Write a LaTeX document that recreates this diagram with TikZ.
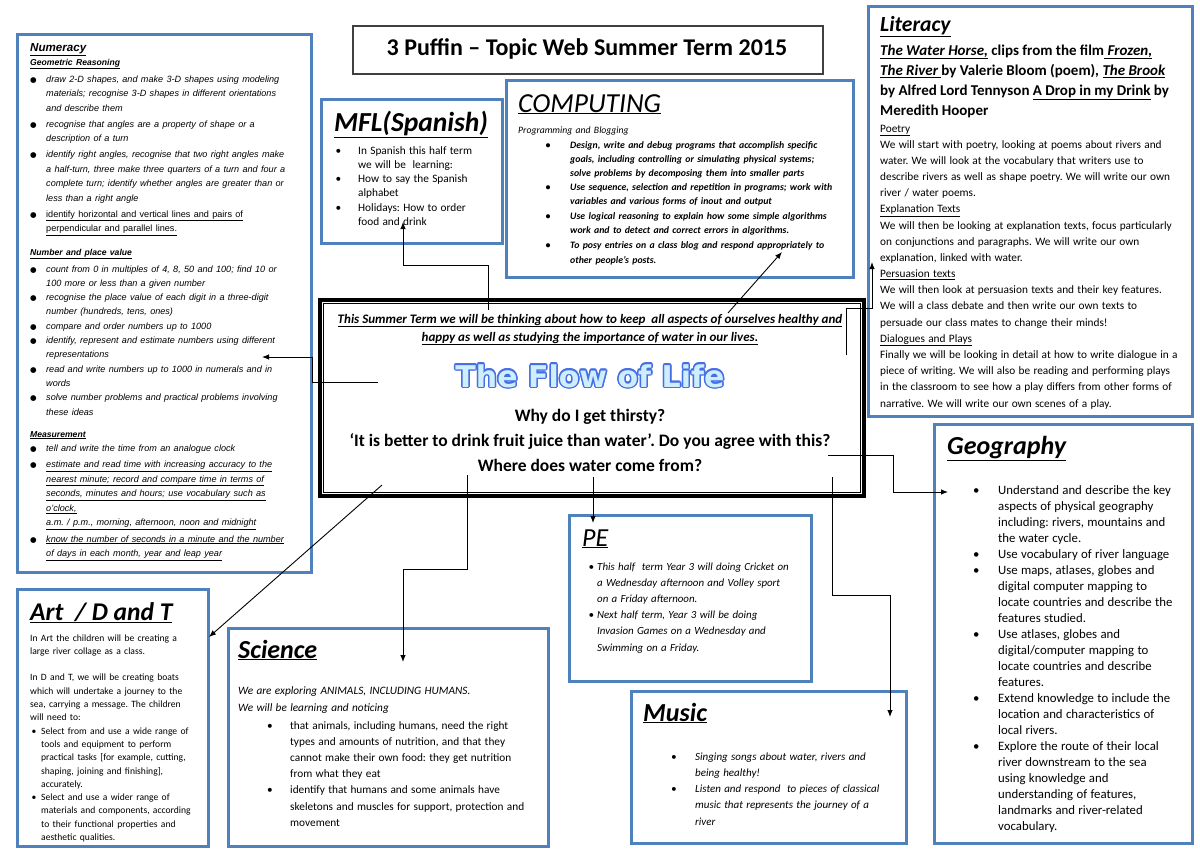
\documentclass[tikz,border=0pt]{standalone}
\usepackage{fontspec}
\usetikzlibrary{arrows.meta}
\setmainfont{Carlito}
\newfontfamily\arialf{Liberation Sans}
\newfontfamily\heavyf{DejaVu Sans}
\definecolor{boxblue}{RGB}{79,129,189}
\definecolor{flowfill}{RGB}{205,238,250}
\definecolor{flowline}{RGB}{70,110,230}
\frenchspacing

\newlength\bulx
\newlength\txtx
\newlength\itemgap
\newcommand\bulsym{\textbullet}
\newcommand\nl{\hfil\break}
\newcommand\uline[1]{\underline{#1}}
\newcommand\bitem[1]{\noindent\hangindent=\txtx\hangafter=1%
  \rlap{\hspace*{\bulx}\bulsym}\hspace*{\txtx}#1\par\vspace{\itemgap}}
\newcommand\fsz[2]{\fontsize{#1}{#2}\selectfont}
\newcommand\flowtext{\heavyf\bfseries\fsz{30}{32}The Flow of Life}

\tikzset{
  bluebox/.style={draw=boxblue, line width=3pt, fill=white, inner sep=0pt, anchor=north west},
  body/.style={anchor=base west, inner sep=0pt, text width=400pt, align=left},
  line/.style={anchor=base, inner sep=0pt},
  head/.style={anchor=base west, inner sep=0pt, font=\fsz{26}{28}\bfseries\itshape},
  link/.style={draw, line width=0.9pt, ->, >={Latex[length=7pt,width=5.5pt]}},
}

\begin{document}
\begin{tikzpicture}[x=1pt,y=-1pt]
\useasboundingbox (0,0) rectangle (1200,852);
\fill[white] (0,0) rectangle (1200,852);

% boxes
\node[draw=black!75, line width=1.5pt, fill=white, inner sep=0pt, anchor=north west,
  minimum width=470pt, minimum height=48pt] (title) at (352,25) {};
\node[bluebox, minimum width=294pt, minimum height=538pt] (numeracy) at (16,33) {};
\node[bluebox, minimum width=181pt, minimum height=144pt] (mfl) at (320,98) {};
\node[bluebox, minimum width=347pt, minimum height=197pt] (computing) at (505,79) {};
\node[bluebox, minimum width=324pt, minimum height=410pt] (literacy) at (867,5) {};
\node[bluebox, minimum width=258pt, minimum height=419pt] (geography) at (933,423) {};
\node[bluebox, minimum width=191pt, minimum height=257pt] (art) at (16,588) {};
\node[bluebox, minimum width=320pt, minimum height=218pt] (science) at (227,627) {};
\node[bluebox, minimum width=242pt, minimum height=166pt] (pe) at (568,514) {};
\node[bluebox, minimum width=275pt, minimum height=152pt] (music) at (630,690) {};
\node[draw, line width=4pt, fill=white, inner sep=0pt, anchor=north west,
  minimum width=544pt, minimum height=196pt] (flow) at (318,298) {};
\draw[line width=0.8pt] ([shift={(5.5,5.5)}]flow.north west) rectangle ([shift={(-5.5,-5.5)}]flow.south east);

% title
\node[line] (titletext) at (587,55) {\fsz{24}{26}\bfseries 3 Puffin – Topic Web Summer Term 2015};

% centre
\node[line] (aim1) at (590,323) {\fsz{13}{14}\bfseries\itshape\uline{This Summer Term we will be thinking about how to keep\ \ all aspects of ourselves healthy and}};
\node[line] (aim2) at (590,341) {\fsz{13}{14}\bfseries\itshape\uline{happy as well as studying the importance of water in our lives.}};
\foreach \a in {0,30,...,330}
  \node[inner sep=0pt, text=flowline, shift={(\a:1.5)}] (flowedge\a) at (590,376) {\flowtext};
\node[inner sep=0pt, text=flowfill] (flowtitle) at (590,376) {\flowtext};
\node[line] (q1) at (590,421) {\fsz{17.5}{19}\bfseries Why do I get thirsty?};
\node[line] (q2) at (590,446) {\fsz{17.5}{19}\bfseries ‘It is better to drink fruit juice than water’. Do you agree with this?};
\node[line] (q3) at (590,471) {\fsz{17.5}{19}\bfseries Where does water come from?};

% numeracy
\node[body] (numtitle) at (30,51) {\arialf\fsz{11.6}{13}\bfseries\itshape\uline{Numeracy}};
\node[body] (geotitle) at (30,65.5) {\arialf\fsz{8.6}{10}\bfseries\itshape\uline{Geometric Reasoning}};
\node[body] (geolist) at (30,82) {\arialf\fsz{9.1}{14.5}\itshape
  \setlength\bulx{0pt}\setlength\txtx{16pt}\setlength\itemgap{1.5pt}%
  \renewcommand\bulsym{{\heavyf\upshape\fsz{7.5}{8}●}}%
  \bitem{draw 2-D shapes, and make 3-D shapes using modeling\nl materials; recognise 3-D shapes in different orientations\nl and describe them}
  \bitem{recognise that angles are a property of shape or a\nl description of a turn}
  \bitem{identify right angles, recognise that two right angles make\nl a half-turn, three make three quarters of a turn and four a\nl complete turn; identify whether angles are greater than or\nl less than a right angle}
  \bitem{\upshape\uline{identify horizontal and vertical lines and pairs of}\nl\uline{perpendicular and parallel lines.}}};
\node[body] (npvtitle) at (30,255) {\arialf\fsz{8.6}{10}\bfseries\itshape\uline{Number and place value}};
\node[body] (npvlist) at (30,272) {\arialf\fsz{9.1}{14.3}\itshape
  \setlength\bulx{0pt}\setlength\txtx{16pt}\setlength\itemgap{0pt}%
  \renewcommand\bulsym{{\heavyf\upshape\fsz{7.5}{8}●}}%
  \bitem{count from 0 in multiples of 4, 8, 50 and 100; find 10 or\nl 100 more or less than a given number}
  \bitem{recognise the place value of each digit in a three-digit\nl number (hundreds, tens, ones)}
  \bitem{compare and order numbers up to 1000}
  \bitem{identify, represent and estimate numbers using different\nl representations}
  \bitem{read and write numbers up to 1000 in numerals and in\nl words}
  \bitem{solve number problems and practical problems involving\nl these ideas}};
\node[body] (meastitle) at (30,437) {\arialf\fsz{8.6}{10}\bfseries\itshape\uline{Measurement}};
\node[body] (measlist) at (30,451) {\arialf\fsz{9.1}{14.5}%
  \setlength\bulx{0pt}\setlength\txtx{16pt}\setlength\itemgap{2pt}%
  \renewcommand\bulsym{{\heavyf\fsz{7.5}{8}●}}%
  \bitem{\itshape tell and write the time from an analogue clock}
  \bitem{\uline{estimate and read time with increasing accuracy to the}\nl\uline{nearest minute; record and compare time in terms of}\nl\uline{seconds, minutes and hours; use vocabulary such as}\nl\uline{o’clock,}\nl\uline{a.m. / p.m., morning, afternoon, noon and midnight}}
  \bitem{\uline{know the number of seconds in a minute and the number}\nl\uline{of days in each month, year and leap year}}};

% MFL
\node[head, font=\fsz{27.5}{30}\bfseries\itshape] (mfltitle) at (334,131) {\uline{MFL(Spanish)}};
\node[body] (mfllist) at (334,154) {\fsz{11.3}{14.3}%
  \setlength\bulx{1.5pt}\setlength\txtx{24pt}\setlength\itemgap{0pt}%
  \bitem{In Spanish this half term\nl we will be\ \ learning:}
  \bitem{How to say the Spanish\nl alphabet}
  \bitem{Holidays: How to order\nl food and drink}};

% computing
\node[head, font=\fsz{27.5}{30}\itshape] (comptitle) at (518,112) {\uline{COMPUTING}};
\node[body] (compsub) at (518,133) {\fsz{9.7}{10}\itshape Programming and Blogging};
\node[body] (complist) at (518,148) {\fsz{9.8}{14.2}\bfseries\itshape
  \setlength\bulx{27.5pt}\setlength\txtx{52pt}\setlength\itemgap{0pt}%
  \bitem{Design, write and debug programs that accomplish specific\nl goals, including controlling or simulating physical systems;\nl solve problems by decomposing them into smaller parts}
  \bitem{Use sequence, selection and repetition in programs; work with\nl variables and various forms of inout and output}
  \setlength\itemgap{1.5pt}%
  \bitem{Use logical reasoning to explain how some simple algorithms\nl work and to detect and correct errors in algorithms.}
  \bitem{To posy entries on a class blog and respond appropriately to\nl other people’s posts.}};

% literacy
\node[head, font=\fsz{21.6}{24}\bfseries\itshape] (littitle) at (880,31) {\uline{Literacy}};
\node[body] (litbooks) at (880,55) {\fsz{15}{20.3}\bfseries
  \uline{\itshape The Water Horse,} clips from the film\uline{\itshape\ Frozen,}\\
  \uline{\itshape The River }by Valerie Bloom (poem)\textit{, \uline{The Brook}}\\
  by Alfred Lord Tennyson \uline{A Drop in my Drink} by\\
  Meredith Hooper\par};
\node[body] (littext) at (880,132) {\fsz{11.3}{16.18}%
  \uline{Poetry}\\
  We will start with poetry, looking at poems about rivers and\\
  water. We will look at the vocabulary that writers use to\\
  describe rivers as well as shape poetry. We will write our own\\
  river / water poems.\\
  \uline{Explanation Texts}\\
  We will then be looking at explanation texts, focus particularly\\
  on conjunctions and paragraphs. We will write our own\\
  explanation, linked with water.\\
  \uline{Persuasion texts}\\
  We will then look at persuasion texts and their key features.\\
  We will a class debate and then write our own texts to\\
  persuade our class mates to change their minds!\\
  \uline{Dialogues and Plays}\\
  Finally we will be looking in detail at how to write dialogue in a\\
  piece of writing. We will also be reading and performing plays\\
  in the classroom to see how a play differs from other forms of\\
  narrative. We will write our own scenes of a play.\par};

% geography
\node[head] (geogtitle) at (947,454) {\uline{Geography}};
\node[body] (geoglist) at (947,494) {\fsz{12.8}{16}%
  \setlength\bulx{26pt}\setlength\txtx{51pt}\setlength\itemgap{0pt}%
  \bitem{Understand and describe the key\nl aspects of physical geography\nl including: rivers, mountains and\nl the water cycle.}
  \bitem{Use vocabulary of river language}
  \bitem{Use maps, atlases, globes and\nl digital computer mapping to\nl locate countries and describe the\nl features studied.}
  \bitem{Use atlases, globes and\nl digital/computer mapping to\nl locate countries and describe\nl features.}
  \bitem{Extend knowledge to include the\nl location and characteristics of\nl local rivers.}
  \bitem{Explore the route of their local\nl river downstream to the sea\nl using knowledge and\nl understanding of features,\nl landmarks and river-related\nl vocabulary.}};

% art
\node[head, font=\fsz{25.5}{28}\bfseries\itshape] (arttitle) at (30,620) {\uline{Art\ \ / D and T}};
\node[body] (arttext) at (30,641) {\fsz{9.6}{13.3}%
  In Art the children will be creating a\\
  large river collage as a class.\\[13.3pt]
  In D and T, we will be creating boats\\
  which will undertake a journey to the\\
  sea, carrying a message. The children\\
  will need to:\par
  \setlength\bulx{1.5pt}\setlength\txtx{11pt}\setlength\itemgap{0pt}%
  \bitem{Select from and use a wide range of\nl tools and equipment to perform\nl practical tasks [for example, cutting,\nl shaping, joining and finishing],\nl accurately.}
  \bitem{Select and use a wider range of\nl materials and components, according\nl to their functional properties and\nl aesthetic qualities.}};

% science
\node[head] (scititle) at (238,658) {\uline{Science}};
\node[body] (scitext) at (238,694) {\fsz{11.3}{17}\itshape
  We are exploring ANIMALS, INCLUDING HUMANS.\\
  We will be learning and noticing\par};
\node[body] (scilist) at (238,729) {\fsz{11.3}{16.2}%
  \setlength\bulx{29pt}\setlength\txtx{52pt}\setlength\itemgap{0pt}%
  \bitem{that animals, including humans, need the right\nl types and amounts of nutrition, and that they\nl cannot make their own food: they get nutrition\nl from what they eat}
  \bitem{identify that humans and some animals have\nl skeletons and muscles for support, protection and\nl movement}};

% PE
\node[head, font=\fsz{26}{28}\itshape] (petitle) at (582,546) {\uline{PE}};
\node[body] (pelist) at (582,570) {\fsz{10.9}{16.2}\itshape
  \setlength\bulx{6.5pt}\setlength\txtx{15pt}\setlength\itemgap{0pt}%
  \bitem{This half\ \ term Year 3 will doing Cricket on\nl a Wednesday afternoon and Volley sport\nl on a Friday afternoon.}
  \bitem{Next half term, Year 3 will be doing\nl Invasion Games on a Wednesday and\nl Swimming on a Friday.}};

% music
\node[head] (mustitle) at (643,721) {\uline{Music}};
\node[body] (muslist) at (643,760) {\fsz{11}{16.3}\itshape
  \setlength\bulx{28pt}\setlength\txtx{52pt}\setlength\itemgap{0pt}%
  \bitem{Singing songs about water, rivers and\nl being healthy!}
  \bitem{Listen and respond\ \ to pieces of classical\nl music that represents the journey of a\nl river}};

% connectors
\coordinate (mflS) at (488,310);
\coordinate (mflE) at (403,222);
\coordinate (compS) at (728,313);
\coordinate (compE) at (782,252);
\coordinate (litS) at (846,355);
\coordinate (litE) at (872,262);
\coordinate (numS) at (378,382);
\coordinate (numE) at (262,357);
\coordinate (geoS) at (828,455);
\coordinate (geoE) at (948,492);
\coordinate (musS) at (832,477);
\coordinate (musE) at (890,717);
\coordinate (peS) at (593,477);
\coordinate (peE) at (593,523);
\coordinate (sciS) at (467,475);
\coordinate (sciE) at (403,662);
\coordinate (artS) at (382,485);
\coordinate (artE) at (209,637);

\path[link] (mflS) -- ++(0,-45) -| (mflE);
\path[link] (compS) -- (compE);
\path[link] (litS) -- ++(0,-47) -| (litE);
\path[link] (numS) -- ++(-66,0) |- (numE);
\path[link] (geoS) -- ++(65,0) |- (geoE);
\path[link] (musS) -- ++(0,118) -| (musE);
\path[link] (peS) -- (peE);
\path[link] (sciS) -- ++(0,94) -| (sciE);
\path[link] (artS) -- (artE);

\end{tikzpicture}
\end{document}
